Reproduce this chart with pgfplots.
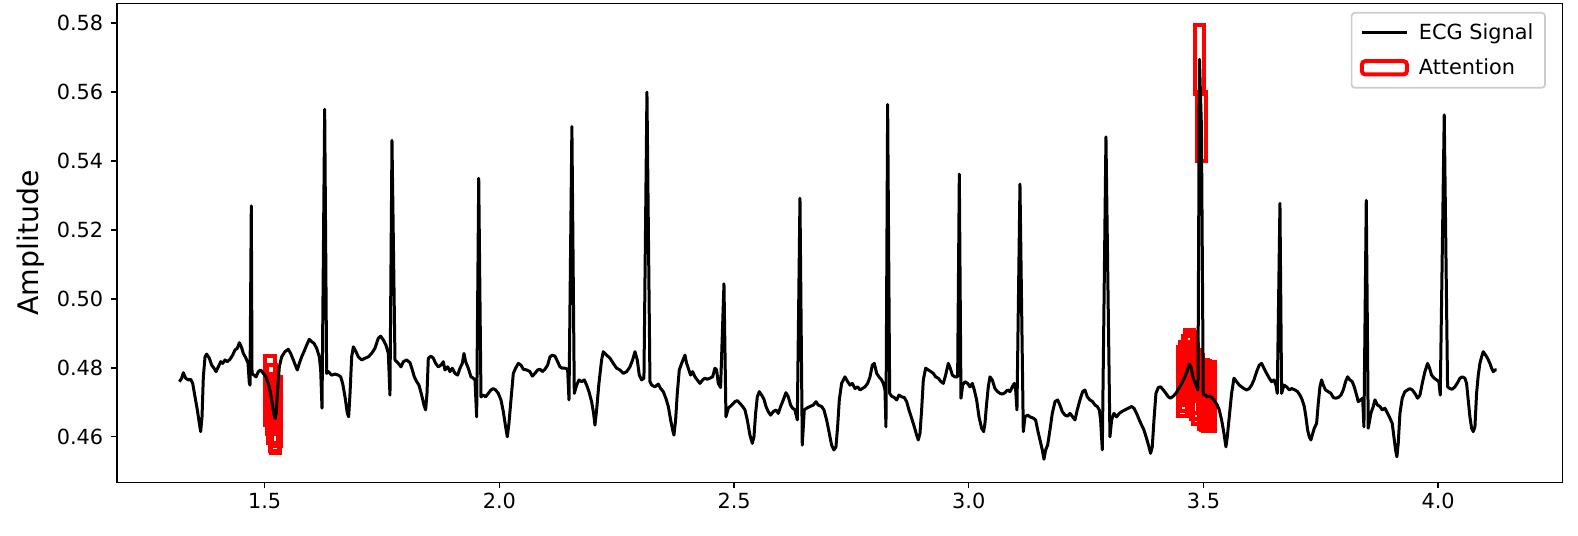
\documentclass[border=0pt]{standalone}
\usepackage{fontspec}
\setmainfont{DejaVu Sans}
\usepackage{pgfplots}
\pgfplotsset{compat=1.18}

\begin{document}
\begin{tikzpicture}
\path[use as bounding box] (-70.1pt,-31.4pt) rectangle (876.7pt,289.6pt);
\begin{axis}[
  anchor=south west, at={(0,0)},
  width=867.4pt, height=287.5pt, scale only axis,
  xmin=1.185, xmax=4.265, ymin=0.4467, ymax=0.5857,
  xtick={1.5,2.0,2.5,3.0,3.5,4.0},
  ytick={0.46,0.48,0.50,0.52,0.54,0.56,0.58},
  scaled ticks=false,
  tick align=outside, tick pos=left,
  major tick length=3.5pt,
  every tick/.style={black, line width=0.8pt},
  axis line style={line width=0.8pt},
  /pgf/number format/assume math mode=true,
  xticklabel style={font=\fontsize{12.5}{14}\selectfont, inner sep=2.5pt, /pgf/number format/fixed, /pgf/number format/precision=1, /pgf/number format/fixed zerofill},
  yticklabel style={font=\fontsize{12.5}{14}\selectfont, inner sep=4.5pt, /pgf/number format/fixed, /pgf/number format/precision=2, /pgf/number format/fixed zerofill},
  ylabel={Amplitude},
  every axis y label/.style={at={(axis description cs:-0.0597,0.5)}, rotate=90, anchor=center, font=\fontsize{17}{20}\selectfont},
  legend style={at={(axis description cs:0.9885,0.9823)}, anchor=north east,
    draw=black!20, line width=1pt, rounded corners=2pt, fill=white,
    font=\fontsize{12.5}{15}\selectfont, row sep=6pt, inner xsep=5pt, inner ysep=4.5pt,
    /tikz/every odd column/.style={column sep=4pt}},
  legend cell align=left,
  att/.style={red, line width=2.4pt, line join=miter, forget plot, mark=none},
]
% attention boxes (drawn under the signal)
\addplot[att] coordinates {(1.5013,0.4635) (1.5213,0.4635) (1.5213,0.4835) (1.5013,0.4835)} --cycle;
\addplot[att] coordinates {(1.5049,0.4607) (1.5249,0.4607) (1.5249,0.4807) (1.5049,0.4807)} --cycle;
\addplot[att] coordinates {(1.5077,0.4583) (1.5277,0.4583) (1.5277,0.4783) (1.5077,0.4783)} --cycle;
\addplot[att] coordinates {(1.5105,0.4560) (1.5305,0.4560) (1.5305,0.4760) (1.5105,0.4760)} --cycle;
\addplot[att] coordinates {(1.5127,0.4554) (1.5327,0.4554) (1.5327,0.4754) (1.5127,0.4754)} --cycle;
\addplot[att] coordinates {(1.5148,0.4573) (1.5348,0.4573) (1.5348,0.4773) (1.5148,0.4773)} --cycle;
\addplot[att] coordinates {(3.4456,0.4660) (3.4656,0.4660) (3.4656,0.4860) (3.4456,0.4860)} --cycle;
\addplot[att] coordinates {(3.4506,0.4674) (3.4706,0.4674) (3.4706,0.4874) (3.4506,0.4874)} --cycle;
\addplot[att] coordinates {(3.4556,0.4692) (3.4756,0.4692) (3.4756,0.4892) (3.4556,0.4892)} --cycle;
\addplot[att] coordinates {(3.4598,0.4711) (3.4798,0.4711) (3.4798,0.4911) (3.4598,0.4911)} --cycle;
\addplot[att] coordinates {(3.4634,0.4703) (3.4834,0.4703) (3.4834,0.4903) (3.4634,0.4903)} --cycle;
\addplot[att] coordinates {(3.4683,0.4670) (3.4883,0.4670) (3.4883,0.4870) (3.4683,0.4870)} --cycle;
\addplot[att] coordinates {(3.4733,0.4653) (3.4933,0.4653) (3.4933,0.4853) (3.4733,0.4853)} --cycle;
\addplot[att] coordinates {(3.4783,0.4636) (3.4983,0.4636) (3.4983,0.4836) (3.4783,0.4836)} --cycle;
\addplot[att] coordinates {(3.4815,0.5595) (3.5015,0.5595) (3.5015,0.5795) (3.4815,0.5795)} --cycle;
\addplot[att] coordinates {(3.4857,0.5400) (3.5057,0.5400) (3.5057,0.5600) (3.4857,0.5600)} --cycle;
\addplot[att] coordinates {(3.4896,0.4624) (3.5096,0.4624) (3.5096,0.4824) (3.4896,0.4824)} --cycle;
\addplot[att] coordinates {(3.4939,0.4621) (3.5139,0.4621) (3.5139,0.4821) (3.4939,0.4821)} --cycle;
\addplot[att] coordinates {(3.4981,0.4616) (3.5181,0.4616) (3.5181,0.4816) (3.4981,0.4816)} --cycle;
\addplot[att] coordinates {(3.5038,0.4618) (3.5238,0.4618) (3.5238,0.4818) (3.5038,0.4818)} --cycle;

% ECG signal
\addplot[black, line width=1.8pt, line join=round, mark=none,
  legend image code/.code={\draw[black, line width=1.8pt] (0pt,0pt) -- (27pt,0pt);}]
table {
x y
1.3182 0.4760
1.3232 0.4770
1.3267 0.4786
1.3317 0.4770
1.3374 0.4765
1.3423 0.4767
1.3466 0.4755
1.3516 0.4716
1.3565 0.4678
1.3608 0.4639
1.3636 0.4615
1.3665 0.4658
1.3693 0.4774
1.3729 0.4832
1.3764 0.4840
1.3821 0.4828
1.3871 0.4808
1.3920 0.4799
1.3963 0.4789
1.4013 0.4803
1.4062 0.4818
1.4105 0.4813
1.4155 0.4823
1.4204 0.4818
1.4261 0.4825
1.4318 0.4837
1.4368 0.4852
1.4417 0.4857
1.4460 0.4873
1.4503 0.4861
1.4545 0.4842
1.4602 0.4828
1.4645 0.4813
1.4673 0.4755
1.4687 0.4750
1.4715 0.5270
1.4730 0.4784
1.4772 0.4779
1.4815 0.4774
1.4865 0.4789
1.4914 0.4794
1.4971 0.4784
1.5028 0.4774
1.5078 0.4755
1.5113 0.4735
1.5149 0.4707
1.5177 0.4683
1.5205 0.4660
1.5227 0.4654
1.5248 0.4673
1.5276 0.4736
1.5312 0.4803
1.5362 0.4832
1.5432 0.4847
1.5503 0.4854
1.5553 0.4842
1.5610 0.4823
1.5667 0.4803
1.5695 0.4794
1.5738 0.4813
1.5788 0.4832
1.5837 0.4847
1.5894 0.4866
1.5951 0.4883
1.6001 0.4876
1.6051 0.4871
1.6107 0.4857
1.6164 0.4832
1.6193 0.4794
1.6221 0.4683
1.6278 0.5550
1.6320 0.4784
1.6356 0.4789
1.6427 0.4779
1.6498 0.4782
1.6569 0.4779
1.6619 0.4774
1.6661 0.4755
1.6711 0.4716
1.6761 0.4668
1.6789 0.4658
1.6818 0.4726
1.6853 0.4832
1.6889 0.4861
1.6945 0.4847
1.6995 0.4832
1.7066 0.4823
1.7137 0.4828
1.7208 0.4832
1.7279 0.4842
1.7350 0.4857
1.7421 0.4886
1.7471 0.4892
1.7527 0.4881
1.7584 0.4866
1.7634 0.4842
1.7669 0.4721
1.7712 0.5460
1.7776 0.4823
1.7847 0.4813
1.7904 0.4803
1.7954 0.4818
1.8025 0.4823
1.8096 0.4815
1.8145 0.4794
1.8188 0.4774
1.8238 0.4760
1.8287 0.4750
1.8344 0.4721
1.8394 0.4692
1.8429 0.4678
1.8458 0.4726
1.8486 0.4828
1.8543 0.4834
1.8593 0.4828
1.8642 0.4813
1.8699 0.4803
1.8756 0.4808
1.8806 0.4818
1.8841 0.4794
1.8898 0.4803
1.8948 0.4789
1.8997 0.4799
1.9054 0.4784
1.9111 0.4779
1.9161 0.4799
1.9210 0.4813
1.9246 0.4842
1.9281 0.4818
1.9338 0.4799
1.9395 0.4774
1.9445 0.4770
1.9480 0.4765
1.9516 0.4658
1.9560 0.5350
1.9608 0.4716
1.9658 0.4721
1.9707 0.4716
1.9764 0.4726
1.9821 0.4736
1.9871 0.4740
1.9920 0.4736
1.9977 0.4726
2.0034 0.4707
2.0084 0.4673
2.0133 0.4629
2.0169 0.4600
2.0204 0.4639
2.0247 0.4707
2.0297 0.4784
2.0346 0.4799
2.0403 0.4813
2.0460 0.4808
2.0510 0.4796
2.0581 0.4794
2.0652 0.4789
2.0701 0.4776
2.0758 0.4784
2.0815 0.4794
2.0865 0.4796
2.0914 0.4789
2.0971 0.4796
2.1028 0.4808
2.1078 0.4832
2.1127 0.4837
2.1184 0.4834
2.1241 0.4818
2.1291 0.4803
2.1340 0.4799
2.1397 0.4799
2.1454 0.4796
2.1483 0.4707
2.1545 0.5500
2.1596 0.4726
2.1646 0.4750
2.1696 0.4765
2.1752 0.4760
2.1809 0.4765
2.1859 0.4750
2.1909 0.4731
2.1965 0.4702
2.2008 0.4668
2.2036 0.4634
2.2072 0.4678
2.2121 0.4755
2.2178 0.4823
2.2214 0.4847
2.2285 0.4837
2.2356 0.4828
2.2427 0.4813
2.2498 0.4799
2.2569 0.4794
2.2640 0.4784
2.2711 0.4789
2.2782 0.4803
2.2839 0.4823
2.2889 0.4847
2.2938 0.4823
2.2981 0.4779
2.3031 0.4765
2.3080 0.4770
2.3144 0.5600
2.3208 0.4760
2.3244 0.4750
2.3315 0.4745
2.3386 0.4753
2.3435 0.4740
2.3492 0.4731
2.3549 0.4711
2.3599 0.4688
2.3648 0.4649
2.3691 0.4620
2.3719 0.4605
2.3755 0.4649
2.3790 0.4726
2.3833 0.4794
2.3883 0.4813
2.3954 0.4837
2.3989 0.4813
2.4025 0.4799
2.4074 0.4779
2.4117 0.4789
2.4167 0.4774
2.4216 0.4765
2.4273 0.4755
2.4330 0.4765
2.4380 0.4770
2.4429 0.4767
2.4486 0.4770
2.4543 0.4774
2.4593 0.4799
2.4628 0.4794
2.4664 0.4755
2.4713 0.4743
2.4785 0.5044
2.4827 0.4658
2.4877 0.4683
2.4948 0.4692
2.5019 0.4702
2.5069 0.4705
2.5125 0.4697
2.5182 0.4688
2.5232 0.4678
2.5282 0.4649
2.5338 0.4605
2.5388 0.4581
2.5424 0.4600
2.5459 0.4668
2.5495 0.4716
2.5537 0.4731
2.5587 0.4721
2.5637 0.4709
2.5680 0.4688
2.5729 0.4673
2.5779 0.4663
2.5836 0.4673
2.5892 0.4678
2.5942 0.4668
2.5992 0.4688
2.6049 0.4707
2.6105 0.4728
2.6155 0.4716
2.6205 0.4692
2.6247 0.4683
2.6297 0.4678
2.6347 0.4649
2.6404 0.5292
2.6453 0.4576
2.6496 0.4678
2.6546 0.4683
2.6617 0.4688
2.6688 0.4692
2.6745 0.4702
2.6794 0.4692
2.6865 0.4688
2.6915 0.4678
2.6972 0.4649
2.7029 0.4610
2.7078 0.4576
2.7128 0.4562
2.7171 0.4571
2.7206 0.4629
2.7242 0.4707
2.7291 0.4755
2.7362 0.4774
2.7420 0.4760
2.7470 0.4750
2.7519 0.4755
2.7576 0.4740
2.7633 0.4745
2.7683 0.4736
2.7732 0.4740
2.7789 0.4745
2.7846 0.4755
2.7896 0.4774
2.7945 0.4808
2.7988 0.4813
2.8038 0.4784
2.8087 0.4774
2.8144 0.4765
2.8180 0.4755
2.8215 0.4736
2.8236 0.4629
2.8272 0.5564
2.8315 0.4726
2.8357 0.4718
2.8414 0.4714
2.8464 0.4707
2.8513 0.4721
2.8570 0.4716
2.8627 0.4714
2.8677 0.4702
2.8726 0.4678
2.8783 0.4654
2.8840 0.4629
2.8890 0.4605
2.8925 0.4591
2.8961 0.4610
2.8996 0.4678
2.9032 0.4765
2.9081 0.4799
2.9138 0.4794
2.9195 0.4789
2.9245 0.4784
2.9294 0.4774
2.9351 0.4770
2.9408 0.4760
2.9458 0.4755
2.9507 0.4779
2.9564 0.4813
2.9607 0.4799
2.9650 0.4779
2.9706 0.4774
2.9763 0.4774
2.9799 0.5362
2.9834 0.4712
2.9870 0.4750
2.9919 0.4760
2.9976 0.4755
3.0026 0.4745
3.0076 0.4755
3.0118 0.4736
3.0168 0.4707
3.0218 0.4658
3.0274 0.4625
3.0317 0.4615
3.0345 0.4639
3.0381 0.4697
3.0416 0.4745
3.0452 0.4774
3.0501 0.4765
3.0558 0.4740
3.0615 0.4731
3.0665 0.4726
3.0715 0.4724
3.0771 0.4728
3.0828 0.4736
3.0878 0.4731
3.0927 0.4745
3.0970 0.4755
3.0999 0.4736
3.1027 0.4678
3.1091 0.5333
3.1162 0.4615
3.1198 0.4658
3.1254 0.4663
3.1304 0.4658
3.1375 0.4654
3.1425 0.4649
3.1467 0.4620
3.1517 0.4591
3.1567 0.4562
3.1602 0.4535
3.1638 0.4562
3.1681 0.4576
3.1730 0.4620
3.1780 0.4668
3.1837 0.4702
3.1894 0.4707
3.1943 0.4692
3.1993 0.4673
3.2050 0.4663
3.2107 0.4660
3.2156 0.4668
3.2213 0.4658
3.2263 0.4649
3.2312 0.4678
3.2369 0.4707
3.2426 0.4731
3.2476 0.4736
3.2525 0.4716
3.2582 0.4707
3.2639 0.4702
3.2689 0.4692
3.2738 0.4688
3.2781 0.4678
3.2809 0.4649
3.2845 0.4562
3.2923 0.5470
3.3008 0.4600
3.3044 0.4649
3.3093 0.4668
3.3150 0.4658
3.3207 0.4668
3.3257 0.4673
3.3328 0.4678
3.3399 0.4683
3.3470 0.4688
3.3519 0.4683
3.3576 0.4668
3.3633 0.4649
3.3683 0.4634
3.3732 0.4620
3.3789 0.4595
3.3839 0.4571
3.3874 0.4552
3.3910 0.4571
3.3946 0.4649
3.3988 0.4726
3.4038 0.4743
3.4088 0.4745
3.4144 0.4736
3.4201 0.4726
3.4251 0.4716
3.4301 0.4712
3.4357 0.4718
3.4414 0.4726
3.4464 0.4738
3.4514 0.4750
3.4556 0.4760
3.4606 0.4774
3.4656 0.4792
3.4698 0.4811
3.4734 0.4803
3.4783 0.4770
3.4833 0.4753
3.4883 0.4736
3.4915 0.5695
3.4957 0.5500
3.4996 0.4724
3.5039 0.4721
3.5081 0.4716
3.5138 0.4718
3.5195 0.4712
3.5245 0.4702
3.5295 0.4692
3.5337 0.4678
3.5387 0.4649
3.5437 0.4610
3.5479 0.4571
3.5508 0.4600
3.5550 0.4658
3.5600 0.4726
3.5650 0.4770
3.5707 0.4760
3.5763 0.4750
3.5813 0.4745
3.5863 0.4740
3.5920 0.4736
3.5976 0.4740
3.6026 0.4750
3.6076 0.4765
3.6133 0.4789
3.6189 0.4808
3.6239 0.4813
3.6289 0.4799
3.6346 0.4784
3.6403 0.4770
3.6452 0.4760
3.6502 0.4765
3.6545 0.4750
3.6573 0.4726
3.6630 0.5277
3.6665 0.4726
3.6715 0.4750
3.6772 0.4745
3.6829 0.4736
3.6878 0.4740
3.6949 0.4736
3.7006 0.4731
3.7056 0.4721
3.7105 0.4707
3.7148 0.4688
3.7183 0.4658
3.7219 0.4620
3.7254 0.4600
3.7290 0.4591
3.7318 0.4605
3.7361 0.4625
3.7411 0.4639
3.7446 0.4697
3.7482 0.4745
3.7517 0.4765
3.7553 0.4750
3.7602 0.4736
3.7659 0.4731
3.7716 0.4726
3.7766 0.4714
3.7815 0.4712
3.7872 0.4714
3.7929 0.4721
3.7979 0.4736
3.8028 0.4760
3.8071 0.4774
3.8121 0.4765
3.8170 0.4760
3.8213 0.4745
3.8263 0.4721
3.8298 0.4702
3.8348 0.4707
3.8391 0.4712
3.8419 0.4629
3.8469 0.5286
3.8511 0.4625
3.8568 0.4668
3.8618 0.4688
3.8653 0.4707
3.8710 0.4692
3.8760 0.4688
3.8809 0.4678
3.8866 0.4683
3.8923 0.4668
3.8973 0.4654
3.9022 0.4639
3.9058 0.4600
3.9093 0.4562
3.9122 0.4542
3.9150 0.4581
3.9186 0.4668
3.9235 0.4712
3.9292 0.4731
3.9349 0.4736
3.9399 0.4740
3.9449 0.4736
3.9505 0.4726
3.9562 0.4712
3.9612 0.4721
3.9662 0.4755
3.9718 0.4789
3.9775 0.4813
3.9818 0.4799
3.9860 0.4779
3.9917 0.4770
3.9967 0.4765
4.0016 0.4760
4.0045 0.4721
4.0130 0.5534
4.0201 0.4745
4.0251 0.4740
4.0301 0.4738
4.0357 0.4745
4.0414 0.4757
4.0464 0.4770
4.0514 0.4774
4.0571 0.4770
4.0606 0.4755
4.0641 0.4707
4.0677 0.4658
4.0713 0.4625
4.0748 0.4615
4.0784 0.4629
4.0819 0.4726
4.0855 0.4779
4.0890 0.4813
4.0926 0.4832
4.0961 0.4847
4.1011 0.4837
4.1053 0.4828
4.1103 0.4813
4.1139 0.4799
4.1174 0.4789
4.1210 0.4794
4.1245 0.4794
};
\addlegendentry{ECG Signal}
\addlegendimage{legend image code/.code={\draw[red, line width=2.4pt, line join=miter] (0pt,-4pt) rectangle (27pt,4pt);}}
\addlegendentry{Attention}
\end{axis}
\end{tikzpicture}
\end{document}
